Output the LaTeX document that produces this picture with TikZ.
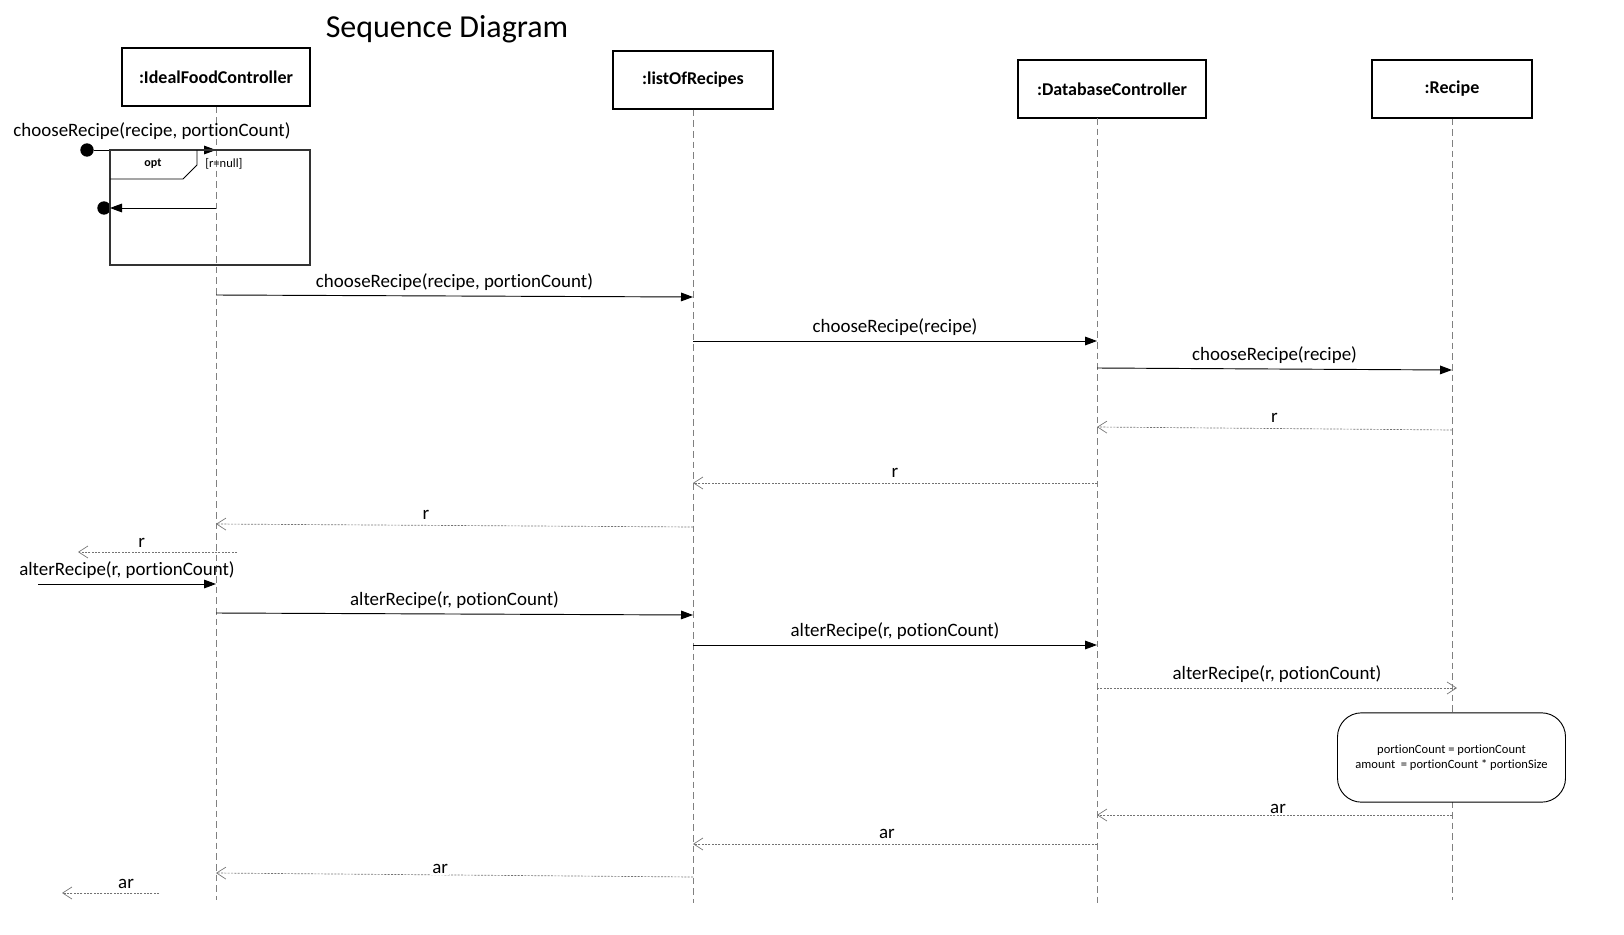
\documentclass[tikz,border=0pt]{standalone}
\usepackage{fontspec}
\setmainfont[Ligatures=NoCommon]{Carlito}
\usetikzlibrary{arrows.meta}

\begin{document}
\begin{tikzpicture}[x=0.75pt,y=-0.75pt,
	obj/.style={draw,line width=0.8pt,minimum width=#1,minimum height=43.5pt,font=\fontsize{13.5}{16}\selectfont\bfseries},
	lifeline/.style={draw=gray,dash pattern=on 5pt off 3pt,line width=0.5pt},
	msg/.style={line width=0.7pt,-{Triangle[length=9pt,width=6.5pt]}},
	ret/.style={draw=black!55,dash pattern=on 1.5pt off 1pt,line width=0.5pt,-{Straight Barb[length=7pt,width=9pt,line width=0.5pt]}},
	txt/.style={font=\fontsize{14.2}{16}\selectfont,inner sep=1pt},
	small/.style={font=\fontsize{9.4}{11}\selectfont}]

		\useasboundingbox (0,0) rectangle (1624,935);

		\node[font=\fontsize{24}{28}\selectfont] (title) at (447,29) {Sequence Diagram};

		\node[obj=141pt] (ifc) at (216,77) {:IdealFoodController};
		\node[obj=120pt] (lor) at (693,80) {:listOfRecipes};
		\node[obj=141pt] (dbc) at (1112,89) {:DatabaseController};
		\node[obj=120pt] (rec) at (1452,89) {:Recipe};

		\coordinate (ifcEnd) at (216,900);
		\coordinate (lorEnd) at (693,903);
		\coordinate (dbcEnd) at (1097,903);
		\coordinate (recEnd) at (1452,900);

		\draw[lifeline] (ifc.south) to (ifcEnd);
		\draw[lifeline] (lor.south) to (lorEnd);
		\draw[lifeline] (1097,118) to (dbcEnd);
		\draw[lifeline] (rec.south) to (recEnd);

		\node[circle,fill,inner sep=0pt,minimum size=10pt] (d1) at (87,150) {};
		\node[circle,fill,inner sep=0pt,minimum size=10pt] (d2) at (104,208) {};

		\coordinate (f1) at (216,150);
		\draw[msg] (d1) to (f1);
		\node[txt] (t0) at (152,131) {chooseRecipe(recipe, portionCount)};

		\draw[line width=0.8pt,draw=black!80] (110,150) rectangle (310,265);
		\draw[line width=0.6pt] (110,179) -- (183,179) -- (197,165) -- (197,150);
		\node[small,font=\fontsize{9}{11}\selectfont\bfseries] (opt) at (153,164) {opt};
		\node[small,anchor=west,inner sep=0pt] (guard) at (205,164) {[r=null]};

		\coordinate (l1) at (216,208);
		\coordinate (l2) at (110,208);
		\draw[msg] (l1) to (l2);

		\coordinate (a1) at (216,295); \coordinate (a2) at (693,297);
		\coordinate (b1) at (693,341); \coordinate (b2) at (1097,341);
		\coordinate (c1) at (1097,368); \coordinate (c2) at (1452,370);
		\coordinate (e1) at (1452,430); \coordinate (e2) at (1097,427);
		\coordinate (g1) at (1097,483); \coordinate (g2) at (693,483);
		\coordinate (h1) at (693,527); \coordinate (h2) at (216,524);
		\coordinate (k1) at (237,552); \coordinate (k2) at (78,552);
		\coordinate (m1) at (38,584); \coordinate (m2) at (216,584);
		\coordinate (n1) at (216,613); \coordinate (n2) at (693,615);
		\coordinate (p1) at (693,645); \coordinate (p2) at (1097,645);
		\coordinate (q1) at (1097,688); \coordinate (q2) at (1457,688);
		\coordinate (s1) at (1452,815); \coordinate (s2) at (1097,815);
		\coordinate (u1) at (1097,844); \coordinate (u2) at (693,844);
		\coordinate (w1) at (693,877); \coordinate (w2) at (216,873);
		\coordinate (z1) at (159,893); \coordinate (z2) at (62,893);

		\draw[msg] (a1) to node[txt,above=3pt] (t1) {chooseRecipe(recipe, portionCount)} (a2);
		\draw[msg] (b1) to node[txt,above=3pt] (t2) {chooseRecipe(recipe)} (b2);
		\draw[msg] (c1) to node[txt,above=3pt] (t3) {chooseRecipe(recipe)} (c2);
		\draw[ret] (e1) to node[txt,above=3pt] (t4) {r} (e2);
		\draw[ret] (g1) to node[txt,above=3pt] (t5) {r} (g2);
		\draw[ret] (h1) to node[txt,above=3pt,pos=0.56] (t6) {r} (h2);
		\draw[ret] (k1) to node[txt,above=2pt,pos=0.6] (t7) {r} (k2);
		\draw[msg] (m1) to node[txt,above=3pt] (t8) {alterRecipe(r, portionCount)} (m2);
		\draw[msg] (n1) to node[txt,above=3pt] (t9) {alterRecipe(r, potionCount)} (n2);
		\draw[msg] (p1) to node[txt,above=3pt] (t10) {alterRecipe(r, potionCount)} (p2);
		\draw[ret] (q1) to node[txt,above=3pt] (t11) {alterRecipe(r, potionCount)} (q2);

		\node[draw,rounded corners=18pt,line width=0.7pt,minimum width=171pt,minimum height=67pt,small,align=center,fill=white] (note) at (1451.5,757.5)
			{portionCount = portionCount\\amount \ = portionCount * portionSize};

		\draw[ret] (s1) to node[txt,above=0pt,pos=0.49,fill=white] (t12) {ar} (s2);
		\draw[ret] (u1) to node[txt,above=3pt,pos=0.52] (t13) {ar} (u2);
		\draw[ret] (w1) to node[txt,above=0pt,pos=0.53,fill=white] (t14) {ar} (w2);
		\draw[ret] (z1) to node[txt,above=2pt,pos=0.34] (t15) {ar} (z2);

	\end{tikzpicture}
\end{document}
